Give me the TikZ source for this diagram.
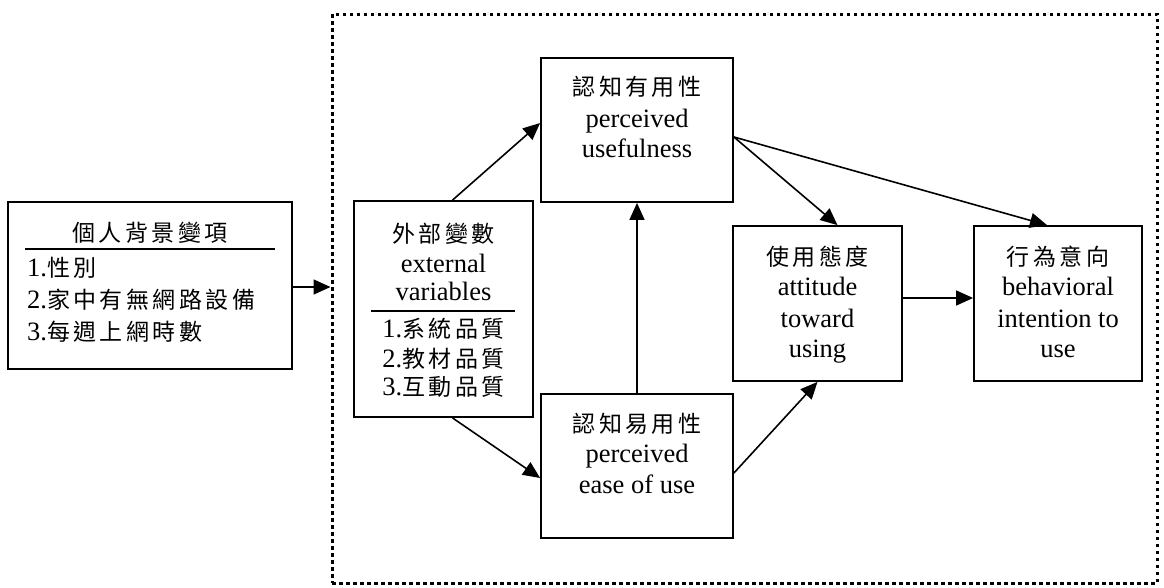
\documentclass[tikz,border=0pt]{standalone}
\usepackage{fontspec}
\setmainfont{Liberation Serif}
\newfontfamily\cjk[LetterSpace=15]{Noto Sans CJK TC}
\usetikzlibrary{arrows.meta,calc}
\newcommand\zh[1]{{\cjk\fontsize{23}{26}\selectfont #1}}
\begin{document}
\begin{tikzpicture}[x=1pt,y=-1pt,
  box/.style={draw,line width=1.8pt,inner sep=0pt,rectangle},
  dotbox/.style={draw,line width=3pt,dash pattern=on 3.5pt off 3.5pt,inner sep=0pt,rectangle},
  txt/.style={inner sep=0pt,anchor=base,font=\fontsize{26.5}{30}\selectfont},
  txtl/.style={txt,anchor=base west},
  sep/.style={line width=1.8pt},
  arr/.style={line width=1.6pt,-{Triangle[length=17pt,width=15pt]}}]
\useasboundingbox (0,0) rectangle (1164,587);

% outer dotted frame around the model
\node[dotbox,minimum width=825pt,minimum height=569pt] (frame) at (744.5,298.5) {};

% personal background variables
\node[box,minimum width=284pt,minimum height=167pt] (bg) at (150,285.5) {};
\node[txt] (bgt) at (150,241) {\zh{個人背景變項}};
\draw[sep] (25,249) -- (275,249);
\node[txtl] (bg1) at (27,276) {1.\zh{性別}};
\node[txtl] (bg2) at (27,308) {2.\zh{家中有無網路設備}};
\node[txtl] (bg3) at (27,340) {3.\zh{每週上網時數}};

% external variables
\node[box,minimum width=179pt,minimum height=216pt] (ext) at (443.5,309) {};
\node[txt] (ext1) at (443.5,242) {\zh{外部變數}};
\node[txt] (ext2) at (443.5,272) {external};
\node[txt] (ext3) at (443.5,300) {variables};
\draw[sep] (371,311) -- (515,311);
\node[txt] (ext4) at (443.5,337) {1.\zh{系統品質}};
\node[txt] (ext5) at (443.5,367) {2.\zh{教材品質}};
\node[txt] (ext6) at (443.5,395) {3.\zh{互動品質}};

% perceived usefulness
\node[box,minimum width=192pt,minimum height=144pt] (pu) at (637,130) {};
\node[txt] (pu1) at (637,95) {\zh{認知有用性}};
\node[txt] (pu2) at (637,127) {perceived};
\node[txt] (pu3) at (637,157) {usefulness};

% perceived ease of use
\node[box,minimum width=192pt,minimum height=144pt] (peou) at (637,466) {};
\node[txt] (peou1) at (637,432) {\zh{認知易用性}};
\node[txt] (peou2) at (637,462) {perceived};
\node[txt] (peou3) at (637,493) {ease of use};

% attitude toward using
\node[box,minimum width=169pt,minimum height=155pt] (att) at (817.5,303.5) {};
\node[txt] (att1) at (817.5,265) {\zh{使用態度}};
\node[txt] (att2) at (817.5,295) {attitude};
\node[txt] (att3) at (817.5,327) {toward};
\node[txt] (att4) at (817.5,357) {using};

% behavioral intention to use
\node[box,minimum width=168pt,minimum height=155pt] (bi) at (1058,303.5) {};
\node[txt] (bi1) at (1058,265) {\zh{行為意向}};
\node[txt] (bi2) at (1058,295) {behavioral};
\node[txt] (bi3) at (1058,327) {intention to};
\node[txt] (bi4) at (1058,357) {use};

% connectors
\coordinate (bgout) at ([yshift=-1.5pt]bg.east);
\draw[arr] (bgout) -- (frame.west |- bgout);
\draw[arr] ([xshift=9pt]ext.north) -- ([yshift=7pt]pu.west);
\draw[arr] ([xshift=9pt]ext.south) -- ([yshift=-12pt]peou.west);
\draw[arr] (peou.north) -- (pu.south);
\coordinate (puout) at ([yshift=-7pt]pu.east);
\draw[arr] (puout) -- ([xshift=20pt]att.north);
\draw[arr] (puout) -- ([xshift=-11pt]bi.north);
\draw[arr] ([yshift=-7pt]peou.east) -- (att.south);
\draw[arr] ([yshift=5.5pt]att.east) -- ([yshift=5.5pt]bi.west);
\end{tikzpicture}
\end{document}
